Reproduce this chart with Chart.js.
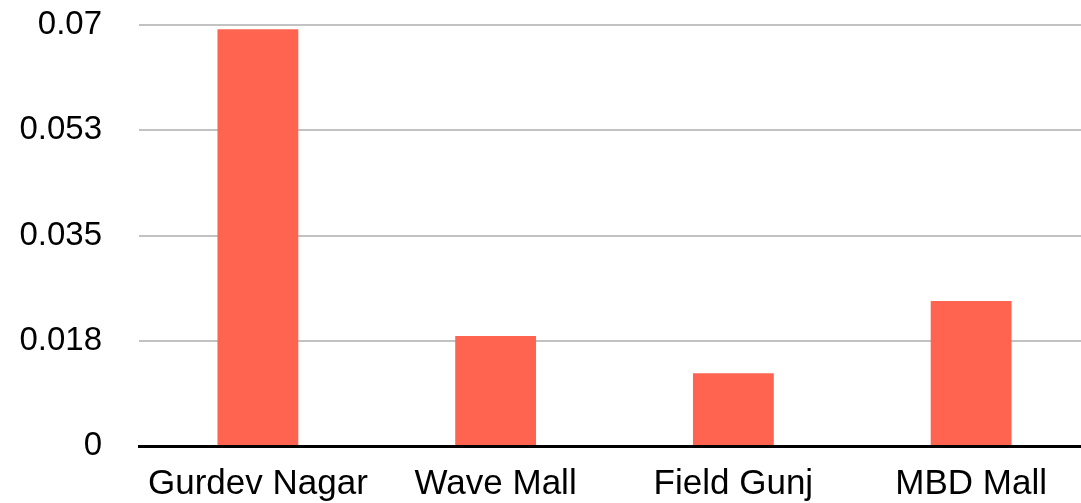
<!DOCTYPE html>
<html>
<head>
<meta charset="utf-8">
<script src="https://cdn.jsdelivr.net/npm/chart.js@4/dist/chart.umd.min.js"></script>
<style>
  html, body { margin: 0; padding: 0; background: #fff; overflow: hidden; }
  #wrap { width: 1081px; height: 503px; overflow: hidden; }
</style>
</head>
<body>
<div id="wrap"><canvas id="myBarChart" width="1090" height="503"></canvas></div>
<script>
var places = ['Gurdev Nagar', 'Wave Mall', 'Field Gunj', 'MBD Mall'];
var scores = [0.0693, 0.0183, 0.0121, 0.0241];
var tickLabels = ['0', '0.018', '0.035', '0.053', '0.07'];
var tickValues = [0, 0.0175, 0.035, 0.0525, 0.07];

function makeAChart(){

    var ctx = document.getElementById('myBarChart').getContext('2d');

    var myBarChart = new Chart(ctx, {
        type: 'bar',
        data: {
            labels: places,
            datasets: [{
                data: scores,
                backgroundColor: '#ff6450',
                borderWidth: 0,
                barPercentage: 0.34,
                categoryPercentage: 1
            }]
        },
        options: {
            responsive: false,
            animation: false,
            layout: { padding: { left: 19, right: 0, top: 25, bottom: 0 } },
            plugins: { legend: { display: false }, tooltip: { enabled: false } },
            scales: {
                x: {
                    grid: { display: false, drawTicks: false },
                    border: { display: true, color: '#000', width: 3 },
                    ticks: {
                        color: '#000',
                        padding: 17,
                        maxRotation: 0,
                        font: { family: '"Liberation Sans", Arial, sans-serif', size: 35 }
                    },
                    afterFit: function(axis){
                        // keep the bottom axis a fixed height, no side padding
                        axis.height = 57;
                        axis.paddingLeft = 0;
                        axis.paddingRight = 0;
                    }
                },
                y: {
                    min: 0,
                    max: 0.07,
                    afterBuildTicks: function(axis){
                        axis.ticks = tickValues.map(function(v){ return { value: v }; });
                    },
                    grid: {
                        drawTicks: false,
                        color: function(c){ return c.index === 0 ? 'rgba(0,0,0,0)' : '#c2c2c2'; },
                        lineWidth: 2
                    },
                    border: { display: false },
                    ticks: {
                        color: '#000',
                        padding: 37,
                        font: { family: '"Liberation Sans", Arial, sans-serif', size: 33 },
                        callback: function(value, index){ return tickLabels[index]; }
                    },
                    afterFit: function(axis){
                        axis.width = 120;
                        axis.paddingTop = 0;
                        axis.paddingBottom = 0;
                    }
                }
            }
        }
    });
}

makeAChart();
</script>
</body>
</html>
